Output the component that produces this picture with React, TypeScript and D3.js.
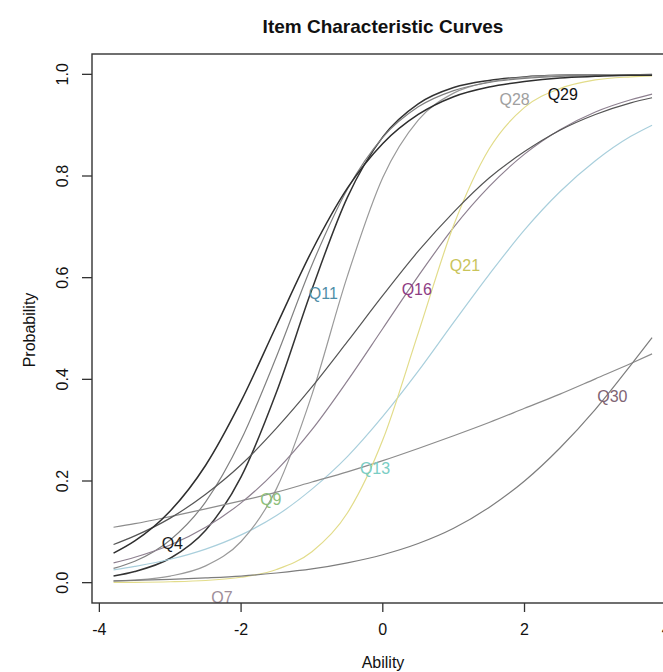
import React from 'react';
import * as d3 from 'd3';

// ability grid the curves were read at
const ability = [-3.8, -3.5, -3, -2.5, -2, -1.5, -1, -0.5, 0, 0.5, 1, 1.5, 2, 2.5, 3, 3.5, 3.8];

// probabilities, one array per item
const q4 = [0.013, 0.022, 0.048, 0.103, 0.208, 0.375, 0.577, 0.758, 0.877, 0.942, 0.974, 0.988, 0.995, 0.998, 0.999, 0.999, 0.9995];
const q7 = [0.025, 0.032, 0.046, 0.066, 0.094, 0.132, 0.184, 0.248, 0.327, 0.416, 0.512, 0.606, 0.694, 0.769, 0.83, 0.878, 0.9];
const q9 = [0.0029, 0.0051, 0.013, 0.033, 0.081, 0.185, 0.37, 0.603, 0.797, 0.91, 0.963, 0.985, 0.994, 0.998, 0.999, 0.9995, 0.9997];
const q11 = [0.028, 0.042, 0.084, 0.159, 0.281, 0.445, 0.625, 0.774, 0.876, 0.936, 0.968, 0.984, 0.992, 0.996, 0.998, 0.999, 0.999];
const q13 = [0.109, 0.116, 0.13, 0.145, 0.161, 0.178, 0.198, 0.218, 0.24, 0.264, 0.289, 0.315, 0.343, 0.371, 0.401, 0.431, 0.45];
const q16 = [0.039, 0.05, 0.074, 0.109, 0.157, 0.221, 0.301, 0.397, 0.5, 0.603, 0.699, 0.779, 0.843, 0.891, 0.926, 0.95, 0.961];
const q21 = [0.0004, 0.0007, 0.0018, 0.0043, 0.0106, 0.026, 0.061, 0.137, 0.281, 0.491, 0.703, 0.853, 0.935, 0.972, 0.989, 0.995, 0.997];
const q28 = [0.075, 0.092, 0.127, 0.174, 0.232, 0.304, 0.385, 0.474, 0.565, 0.652, 0.729, 0.796, 0.848, 0.89, 0.921, 0.944, 0.954];
const q29 = [0.058, 0.082, 0.141, 0.231, 0.357, 0.506, 0.653, 0.776, 0.864, 0.921, 0.956, 0.975, 0.986, 0.993, 0.996, 0.998, 0.998];
const q30 = [0.0036, 0.0045, 0.0064, 0.0093, 0.013, 0.019, 0.027, 0.039, 0.055, 0.077, 0.107, 0.148, 0.2, 0.265, 0.341, 0.428, 0.482];

const items = ['Q4', 'Q7', 'Q9', 'Q11', 'Q13', 'Q16', 'Q21', 'Q28', 'Q29', 'Q30'];
const series = [q4, q7, q9, q11, q13, q16, q21, q28, q29, q30];
const lineColors = ['#333333', '#a9cfdc', '#9a9a9a', '#808080', '#8c8c8c', '#8e8090', '#e2dc8a', '#555555', '#2e2e2e', '#7d7d7d'];

// where each item label sits
const labelX = [-2.97, -2.27, -1.58, -0.84, -0.11, 0.48, 1.16, 1.86, 2.54, 3.24];
const labelY = [0.078, -0.028, 0.163, 0.57, 0.225, 0.577, 0.625, 0.951, 0.96, 0.366];
const labelColors = ['#1a1a1a', '#a08e9a', '#8dc07c', '#4f8ea8', '#7acdc4', '#8e3d84', '#c9c45a', '#a0a0a0', '#111111', '#806474'];

const xTicks = [-4, -2, 0, 2, 4];
const yTicks = [0, 0.2, 0.4, 0.6, 0.8, 1.0];

const W = 663;
const H = 672;
const left = 92;
const top = 54;
const bottom = 603;
const right = 673.6;
const font = 'Liberation Sans, Arial, Helvetica, sans-serif';

export default function App() {
  const x = d3.scaleLinear().domain([-4.104, 4.104]).range([left, right]);
  const y = d3.scaleLinear().domain([-0.04, 1.04]).range([bottom, top]);

  const line = d3
    .line<number>()
    .x((_, i) => x(ability[i]))
    .y((d) => y(d))
    .curve(d3.curveMonotoneX);

  return (
    <svg
      width={W}
      height={H}
      style={{ position: 'absolute', left: 0, top: 0, background: '#fff', display: 'block' }}
      fontFamily={font}
    >
      <defs>
        <clipPath id="plotArea">
          <rect x={left} y={top} width={right - left} height={bottom - top} />
        </clipPath>
      </defs>

      <text x={383} y={33} textAnchor="middle" fontSize={19} fontWeight="bold" fill="#111">
        Item Characteristic Curves
      </text>

      <g clipPath="url(#plotArea)">
        {series.map((s, i) => (
          <path key={items[i]} d={line(s) || ''} fill="none" stroke={lineColors[i]} strokeWidth={i === 0 || i === 8 ? 1.5 : 1.2} />
        ))}
        {items.map((name, i) => (
          <text
            key={name}
            x={x(labelX[i])}
            y={y(labelY[i])}
            dy="0.35em"
            textAnchor="middle"
            fontSize={16}
            fill={labelColors[i]}
          >
            {name}
          </text>
        ))}
      </g>

      <rect x={left} y={top} width={right - left} height={bottom - top} fill="none" stroke="#333" strokeWidth={1.4} />

      {xTicks.map((t) => (
        <g key={t}>
          <line x1={x(t)} x2={x(t)} y1={bottom} y2={bottom + 9} stroke="#333" strokeWidth={1.3} />
          <text x={x(t)} y={635} textAnchor="middle" fontSize={16} fill="#111">
            {t}
          </text>
        </g>
      ))}

      {yTicks.map((t) => (
        <g key={t}>
          <line x1={left - 10} x2={left} y1={y(t)} y2={y(t)} stroke="#333" strokeWidth={1.3} />
          <text
            transform={`translate(68,${y(t)}) rotate(-90)`}
            textAnchor="middle"
            fontSize={16}
            fill="#111"
          >
            {d3.format('.1f')(t)}
          </text>
        </g>
      ))}

      <text x={383} y={668} textAnchor="middle" fontSize={16} fill="#111">
        Ability
      </text>
      <text transform="translate(35,330) rotate(-90)" textAnchor="middle" fontSize={16} fill="#111">
        Probability
      </text>
    </svg>
  );
}
